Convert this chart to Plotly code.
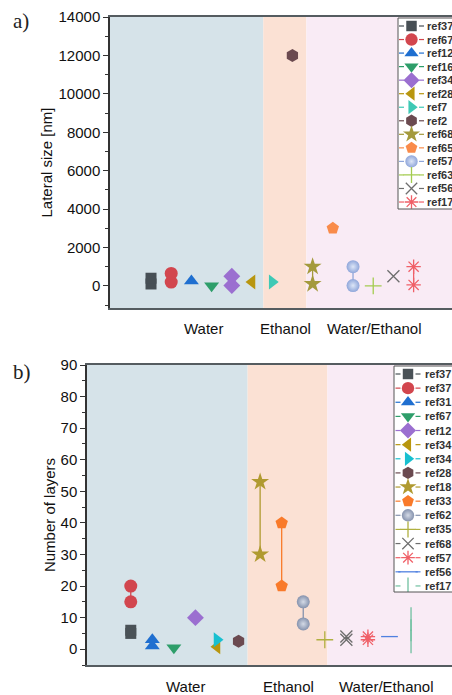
import plotly.graph_objects as go

W, H = 452, 695

# ---------- data: panel a (lateral size, nm) ----------
a_refs = ["ref37", "ref67", "ref12", "ref16", "ref34", "ref28", "ref7",
          "ref2", "ref68", "ref65", "ref57", "ref63", "ref56", "ref17"]
a_x = [1, 2, 3, 4, 5, 6, 7, 8, 9, 10, 11, 12, 13, 14]
a_vals = [[100, 400], [200, 650], [250], [10], [20, 500], [200], [200],
          [12000], [100, 1000], [3000], [20, 1000], [0], [500], [50, 1000]]

# ---------- data: panel b (number of layers) ----------
b_refs = ["ref37", "ref37", "ref31", "ref67", "ref12", "ref34", "ref34",
          "ref28", "ref18", "ref33", "ref62", "ref35", "ref68", "ref57",
          "ref56", "ref17"]
b_x = [1, 1, 2, 3, 4, 5, 5, 6, 7, 8, 9, 10, 11, 12, 13, 14]
b_vals = [[5, 6], [15, 20], [1, 3], [0.5], [10], [0.8], [3], [2.5],
          [30, 53], [20, 40], [8, 15], [3], [3, 4], [3, 4], [4], [2.5, 9.5]]

categories = ["Water", "Ethanol", "Water/Ethanol"]

# ---------- styles ----------
a_sym = ["square", "circle", "triangle-up", "triangle-down", "diamond",
         "triangle-left", "triangle-right", "hexagon", "star", "pentagon",
         "circle", "cross-thin-open", "x-thin-open", "asterisk-open"]
a_col = ["#474f55", "#d2464e", "#1f6fd0", "#2e9e6a", "#9b6fd0", "#b8960f",
         "#3ec9b5", "#6b4a50", "#a49a3c", "#f98b4a", "#8fa6da", "#a4cc50",
         "#6e6e6e", "#f06068"]
b_sym = ["square", "circle", "triangle-up", "triangle-down", "diamond",
         "triangle-left", "triangle-right", "hexagon", "star", "pentagon",
         "circle", "cross-thin-open", "x-thin-open", "asterisk-open",
         "line-ew-open", "line-ns-open"]
b_col = ["#4a5257", "#d2464e", "#1f6fd0", "#2e9e6a", "#9b6fd0", "#b8960f",
         "#18c0d0", "#6b4a50", "#b09a30", "#f97a2a", "#8592ad", "#b0b040",
         "#6e6e6e", "#f06068", "#5080e0", "#70c0a0"]

SPHERES = {"#8fa6da": "#dde6f7", "#8592ad": "#d4dae6"}
FONT = "Arial"

fig = go.Figure()


def marker_for(s, c, scale=1.0):
    openm = s.endswith("-open")
    size = 13
    if s == "star":
        size = 13.5
    elif s == "square":
        size = 11
    elif s == "line-ns-open":
        size = 17
    elif openm:
        size = 12
    m = dict(symbol=s, size=size * scale, color=c,
             line=dict(color=c, width=1.3 if openm else 0))
    if s == "circle" and c in SPHERES:
        m["gradient"] = dict(type="radial", color=SPHERES[c])
    return m


def add_traces(refs, xs, vals, syms, cols, xa, ya):
    for r, x, v, s, c in zip(refs, xs, vals, syms, cols):
        fig.add_trace(go.Scatter(
            x=[x] * len(v), y=v, name=r, mode="lines+markers",
            marker=marker_for(s, c), line=dict(color=c, width=1.3),
            xaxis=xa, yaxis=ya, showlegend=False))


add_traces(a_refs, a_x, a_vals, a_sym, a_col, "x", "y")
add_traces(b_refs, b_x, b_vals, b_sym, b_col, "x2", "y2")

# ---------- hand-built legends (Origin style: "- symbol - name") ----------
ann = []
shapes = []


def add_legend(refs, syms, cols, xa, ya, step, mx, txt_x):
    for i, (r, s, c) in enumerate(zip(refs, syms, cols)):
        yy = 8 + step * i
        fig.add_trace(go.Scatter(
            x=[mx - 12.5, mx - 7.5, None, mx + 7.5, mx + 12.5],
            y=[yy, yy, None, yy, yy], mode="lines",
            line=dict(color=c, width=1.2), xaxis=xa, yaxis=ya,
            showlegend=False, hoverinfo="skip"))
        m = marker_for(s, c, 0.95)
        if s == "line-ew-open":
            m["size"] = 14
        if s == "line-ns-open":
            m["size"] = 12
        fig.add_trace(go.Scatter(
            x=[mx], y=[yy], mode="markers", marker=m, xaxis=xa, yaxis=ya,
            showlegend=False, hoverinfo="skip"))
        ann.append(dict(text="<b>%s</b>" % r, x=txt_x, y=yy, xref=xa, yref=ya,
                        xanchor="left", yanchor="middle", showarrow=False,
                        font=dict(family=FONT, size=11, color="#333")))


add_legend(a_refs, a_sym, a_col, "x3", "y3", 13.54, 13.5, 26.5)
add_legend(b_refs, b_sym, b_col, "x4", "y4", 14.13, 14, 29)

# legend frames
for x0, y0, y1 in ((398, 18, 209), (394, 366, 592)):
    shapes.append(dict(type="rect", xref="paper", yref="paper",
                       x0=x0 / W, x1=1.05, y0=1 - y1 / H, y1=1 - y0 / H,
                       line=dict(color="#555", width=1), fillcolor="rgba(0,0,0,0)",
                       layer="above"))

# background regions
reg_col = ["#d6e3e9", "#fbe1d4", "#f9ebf5"]
a_bounds = [-1.1, 6.56, 8.69, 16.5]
b_bounds = [-1.1, 6.42, 10.12, 16.5]
for bounds, xr, yr in ((a_bounds, "x", "y domain"), (b_bounds, "x2", "y2 domain")):
    for i in range(3):
        shapes.append(dict(type="rect", xref=xr, yref=yr, x0=bounds[i],
                           x1=bounds[i + 1], y0=0, y1=1, fillcolor=reg_col[i],
                           line=dict(width=0), layer="below"))


def paper_text(t, xp, yp, size, family, color="#111"):
    ann.append(dict(text=t, x=xp / W, y=1 - yp / H, xref="paper", yref="paper",
                    xanchor="center", yanchor="middle", showarrow=False,
                    font=dict(family=family, size=size, color=color)))


a_cat_x = [203, 285, 374]
b_cat_x = [185, 288, 386]
for t, xp in zip(categories, a_cat_x):
    paper_text(t, xp, 328, 15, FONT)
for t, xp in zip(categories, b_cat_x):
    paper_text(t, xp, 686, 15, FONT)
paper_text("a)", 21, 21, 21, "Liberation Serif, serif", "#222")
paper_text("b)", 22, 372, 21, "Liberation Serif, serif", "#222")

xcommon = dict(range=[-1.03, 15.9], showgrid=False, zeroline=False,
               showticklabels=False, ticks="", showline=True, automargin=False,
               linecolor="#555c60", linewidth=1.5, mirror=True)
ycommon = dict(showgrid=False, zeroline=False, ticks="outside", ticklen=5,
               tickwidth=1, tickcolor="#333", showline=True, linecolor="#333",
               linewidth=1.5, tickformat="d", automargin=False,
               tickfont=dict(family=FONT, size=15, color="#111"),
               title_font=dict(family=FONT, size=15, color="#111"))
hidden = dict(visible=False, showgrid=False, zeroline=False, fixedrange=True,
              automargin=False)

fig.update_layout(
    width=W, height=H, margin=dict(l=0, r=0, t=0, b=0, pad=0, autoexpand=False),
    paper_bgcolor="white", plot_bgcolor="white",
    shapes=shapes, annotations=ann, showlegend=False,
    xaxis=dict(domain=[110 / W, 1], anchor="y", **xcommon),
    xaxis2=dict(domain=[87 / W, 1], anchor="y2", **xcommon),
    yaxis=dict(domain=[1 - 308 / H, 1 - 17 / H], anchor="x",
               range=[-1150, 14000], dtick=2000, tick0=0,
               minor=dict(dtick=1000, ticks="outside", ticklen=3, tickcolor="#333"),
               title=dict(text="Lateral size [nm]", standoff=2), **ycommon),
    yaxis2=dict(domain=[1 - 665 / H, 1 - 365 / H], anchor="x2",
                range=[-5, 90], dtick=10, tick0=0,
                minor=dict(dtick=5, ticks="outside", ticklen=3, tickcolor="#333"),
                title=dict(text="Number of layers", standoff=1), **ycommon),
    xaxis3=dict(domain=[398 / W, 1], anchor="y3", range=[0, 54], **hidden),
    yaxis3=dict(domain=[1 - 209 / H, 1 - 18 / H], anchor="x3", range=[191, 0], **hidden),
    xaxis4=dict(domain=[394 / W, 1], anchor="y4", range=[0, 58], **hidden),
    yaxis4=dict(domain=[1 - 592 / H, 1 - 366 / H], anchor="x4", range=[226, 0], **hidden),
)

fig.write_html("out.html", config={"displayModeBar": False},
               post_script="document.body.style.margin='0px';"
                           "document.body.style.overflow='hidden';")
